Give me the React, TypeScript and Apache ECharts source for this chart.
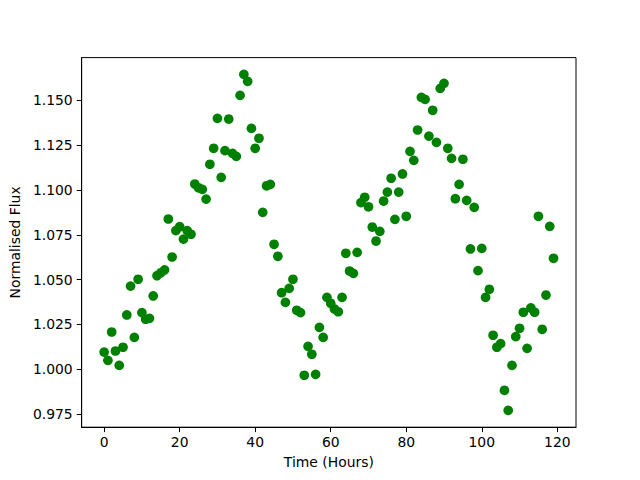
import React, { useEffect, useRef } from "react";
import * as echarts from "echarts";

const hours: number[] = Array.from({ length: 120 }, (_, i) => i);
const flux: number[] = [
  1.0096, 1.005, 1.0208, 1.0102, 1.0022, 1.0123, 1.0303, 1.0464, 1.0178, 1.0502,
  1.0316, 1.0279, 1.0284, 1.0409, 1.0522, 1.0538, 1.0554, 1.0838, 1.0626, 1.0773,
  1.0795, 1.0726, 1.0773, 1.0753, 1.1033, 1.1012, 1.1003, 1.0949, 1.1143, 1.1232,
  1.1399, 1.107, 1.1219, 1.1395, 1.1204, 1.1187, 1.1527, 1.1644, 1.1605, 1.1343,
  1.1232, 1.1288, 1.0875, 1.1023, 1.1031, 1.0697, 1.063, 1.0427, 1.0373, 1.0451,
  1.0502, 1.0329, 1.0316, 0.9967, 1.0128, 1.0084, 0.9972, 1.0234, 1.0178, 1.0401,
  1.0368, 1.0336, 1.0321, 1.0401, 1.0647, 1.0548, 1.0535, 1.0652, 1.0929, 1.0959,
  1.0906, 1.0793, 1.0715, 1.0769, 1.0938, 1.0988, 1.1065, 1.0836, 1.0988, 1.1089,
  1.0853, 1.1215, 1.1165, 1.1334, 1.1516, 1.1505, 1.13, 1.1444, 1.1265, 1.1566,
  1.1594, 1.1232, 1.1176, 1.0951, 1.1031, 1.1171, 1.0942, 1.0671, 1.0903, 1.055,
  1.0674, 1.0401, 1.0446, 1.019, 1.0123, 1.0143, 0.9883, 0.9771, 1.0022, 1.0182,
  1.0229, 1.0318, 1.0117, 1.0342, 1.0318, 1.0853, 1.0223, 1.0414, 1.0797, 1.0619,
];
const xTicks: number[] = [0, 20, 40, 60, 80, 100, 120];
const yTicks: number[] = [0.975, 1.0, 1.025, 1.05, 1.075, 1.1, 1.125, 1.15];

const FONT = "DejaVu Sans";

export default function App() {
  const ref = useRef<HTMLDivElement>(null);
  useEffect(() => {
    if (!ref.current) return;
    const chart = echarts.init(ref.current, null, { renderer: "svg" });
    const xMinD = Math.min(...hours), xMaxD = Math.max(...hours);
    const yMinD = Math.min(...flux), yMaxD = Math.max(...flux);
    const xr = xMaxD - xMinD, yr = yMaxD - yMinD;
    const data = hours.map((h, i) => [h, flux[i]]);
    const axisCommon = {
      axisLine: { show: true, onZero: false, lineStyle: { color: "#000", width: 1 } },
      axisTick: { show: true, inside: false, length: 4.9, lineStyle: { color: "#000", width: 1 } },
      splitLine: { show: false },
      nameTextStyle: { color: "#000", fontFamily: FONT, fontSize: 13.9 },
    };
    chart.setOption({
      animation: false,
      backgroundColor: "#fff",
      grid: {
        left: 80, right: 64, top: 57.6, bottom: 52.8,
        show: true, borderColor: "#000", borderWidth: 1, backgroundColor: "transparent",
      },
      xAxis: {
        type: "value",
        min: xMinD - 0.05 * xr,
        max: xMaxD + 0.05 * xr,
        name: "Time (Hours)",
        nameLocation: "middle",
        nameGap: 28,
        ...axisCommon,
        axisTick: { ...axisCommon.axisTick, customValues: xTicks },
        axisLabel: {
          customValues: xTicks,
          color: "#000", fontFamily: FONT, fontSize: 13.9, margin: 8,
          formatter: (v: number) => String(v),
        },
      },
      yAxis: {
        type: "value",
        min: yMinD - 0.05 * yr,
        max: yMaxD + 0.05 * yr,
        name: "Normalised Flux",
        nameLocation: "middle",
        nameGap: 57,
        ...axisCommon,
        axisTick: { ...axisCommon.axisTick, customValues: yTicks },
        axisLabel: {
          customValues: yTicks,
          color: "#000", fontFamily: FONT, fontSize: 13.9, margin: 9,
          formatter: (v: number) => v.toFixed(3),
        },
      },
      series: [
        {
          type: "scatter",
          data,
          symbol: "circle",
          symbolSize: 9.7,
          itemStyle: { color: "#008000", opacity: 1 },
        },
      ],
    });
    return () => chart.dispose();
  }, []);
  return (
    <div
      ref={ref}
      style={{ position: "absolute", left: 0, top: 0, width: 640, height: 480 }}
    />
  );
}
